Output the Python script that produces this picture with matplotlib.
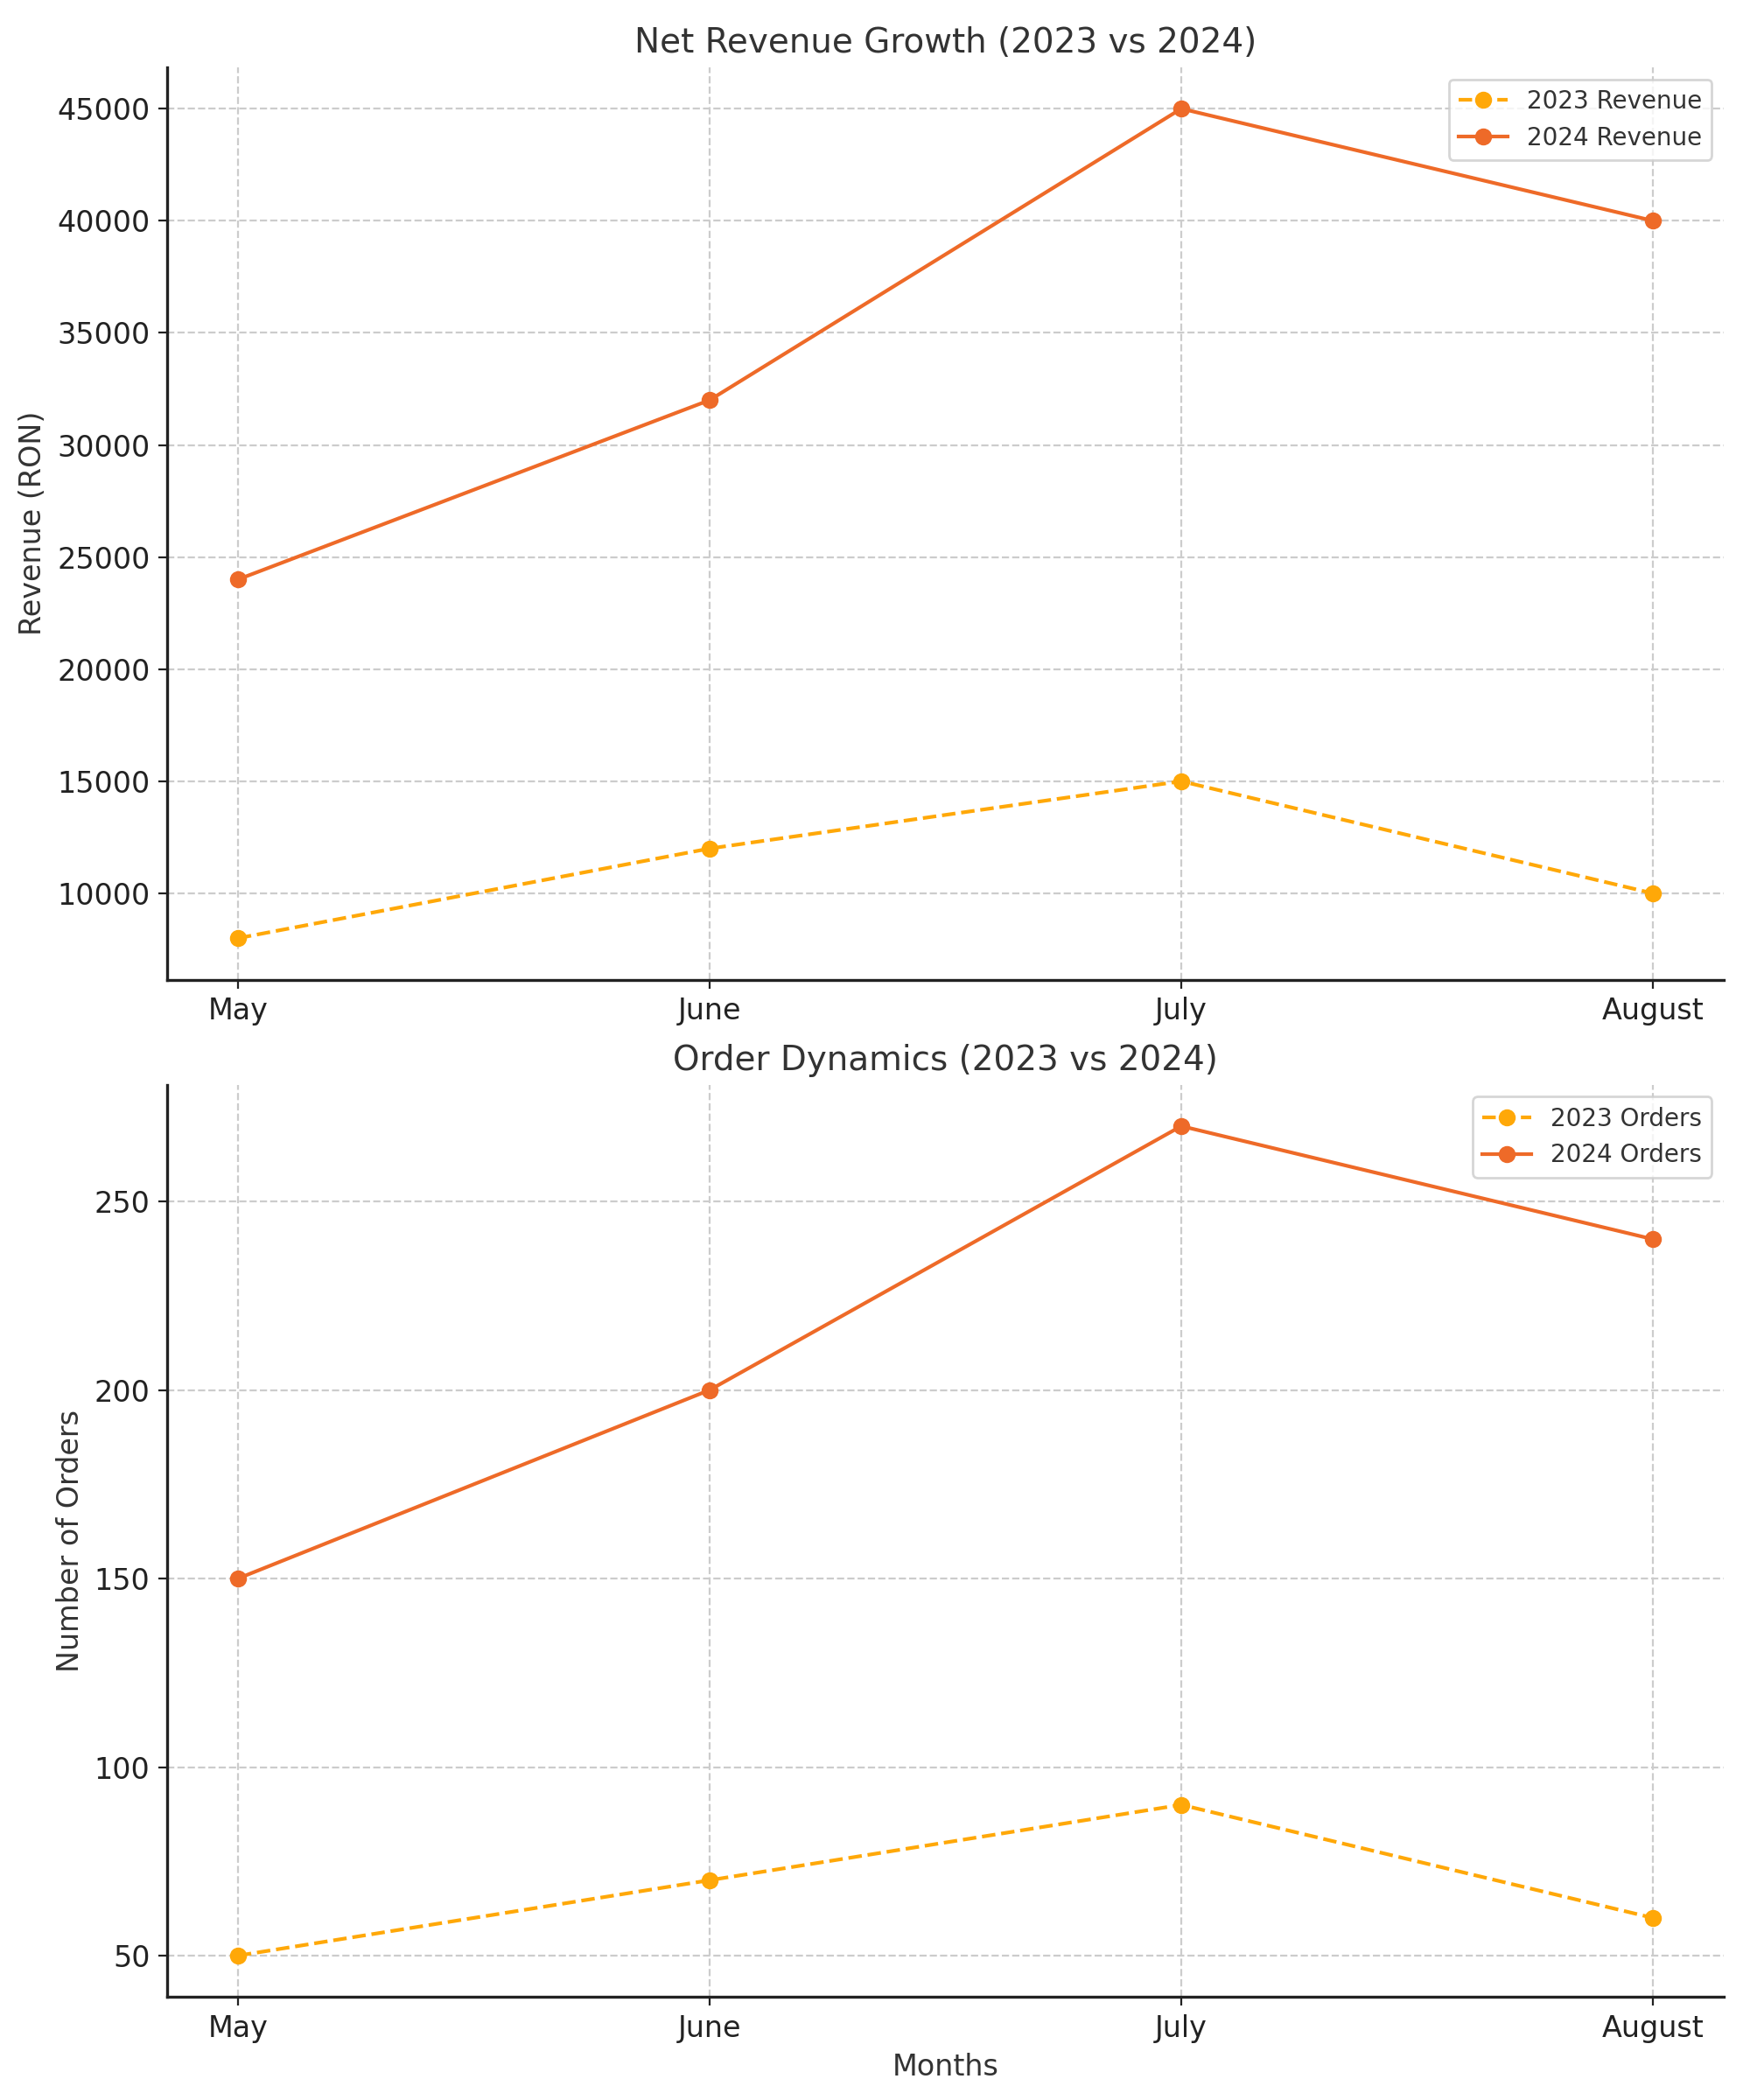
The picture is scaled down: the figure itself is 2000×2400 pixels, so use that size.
import matplotlib
matplotlib.use("Agg")
import matplotlib.pyplot as plt

# -------------------------------
# DATA
# -------------------------------

months = ["May", "June", "July", "August"]
revenue_2023 = [8000, 12000, 15000, 10000]
revenue_2024 = [24000, 32000, 45000, 40000]
orders_2023 = [50, 70, 90, 60]
orders_2024 = [150, 200, 270, 240]

c2023 = "#FFA808"
c2024 = "#EE6A28"
text_col = "#333333"

plt.rcParams["font.family"] = "DejaVu Sans"

fig, (ax1, ax2) = plt.subplots(2, 1, figsize=(10, 12), dpi=200)

# -------------------------------
# REVENUE
# -------------------------------

ax1.plot(months, revenue_2023, marker="o", linestyle="--", color=c2023, label="2023 Revenue")
ax1.plot(months, revenue_2024, marker="o", linestyle="-", color=c2024, label="2024 Revenue")
ax1.set_title("Net Revenue Growth (2023 vs 2024)", fontsize=14, color=text_col)
ax1.set_ylabel("Revenue (RON)", fontsize=12, color=text_col)

# -------------------------------
# ORDERS
# -------------------------------

ax2.plot(months, orders_2023, marker="o", linestyle="--", color=c2023, label="2023 Orders")
ax2.plot(months, orders_2024, marker="o", linestyle="-", color=c2024, label="2024 Orders")
ax2.set_title("Order Dynamics (2023 vs 2024)", fontsize=14, color=text_col)
ax2.set_ylabel("Number of Orders", fontsize=12, color=text_col)
ax2.set_xlabel("Months", fontsize=12, color=text_col)

for ax in (ax1, ax2):
    ax.grid(True, linestyle="--", color="#cccccc", linewidth=0.8)
    ax.set_axisbelow(True)
    ax.spines["top"].set_visible(False)
    ax.spines["right"].set_visible(False)
    ax.spines["left"].set_color("#222222")
    ax.spines["bottom"].set_color("#222222")
    ax.spines["left"].set_linewidth(1.2)
    ax.spines["bottom"].set_linewidth(1.2)
    ax.tick_params(labelsize=12, colors="#222222")
    leg = ax.legend(fontsize=10, loc="upper right")
    for t in leg.get_texts():
        t.set_color(text_col)

plt.subplots_adjust(left=0.0955, right=0.985, top=0.968, bottom=0.049, hspace=0.115)
plt.savefig("out.png")
